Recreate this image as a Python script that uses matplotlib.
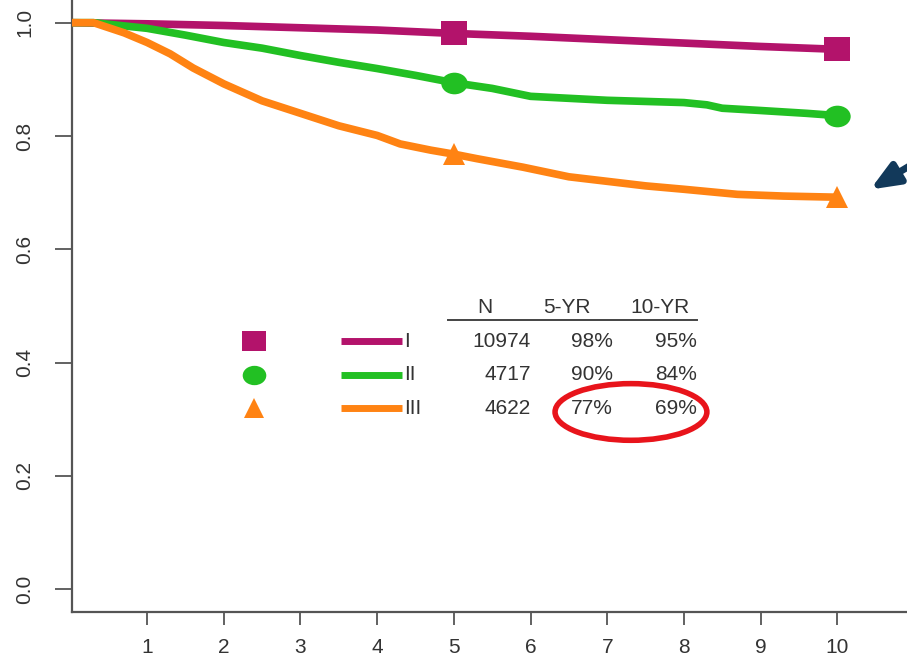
import numpy as np
import matplotlib
matplotlib.use("Agg")
import matplotlib.pyplot as plt
from matplotlib.patches import Ellipse
from matplotlib.path import Path
from matplotlib.transforms import Affine2D

plt.rcParams['font.family'] = ['Liberation Sans', 'DejaVu Sans']

# survival curves (years, proportion)
x_I = [0, 1, 2, 3, 4, 5, 6, 7, 8, 9, 10]
y_I = [1.0, 0.998, 0.995, 0.991, 0.987, 0.981, 0.976, 0.970, 0.964, 0.958, 0.953]

x_II = [0, 0.3, 1, 1.5, 2, 2.5, 3, 3.5, 4, 4.5, 5, 5.5, 6, 7, 8, 8.3, 8.5, 9, 9.6, 10]
y_II = [1.0, 1.0, 0.99, 0.978, 0.965, 0.955, 0.942, 0.93, 0.919, 0.907, 0.894,
        0.884, 0.870, 0.863, 0.859, 0.855, 0.849, 0.845, 0.840, 0.836]

x_III = [0, 0.3, 0.7, 1, 1.3, 1.6, 2, 2.5, 3, 3.5, 4, 4.3, 4.7, 5, 5.3, 5.9,
         6.5, 7, 7.5, 8, 8.7, 9.3, 10]
y_III = [1.0, 1.0, 0.982, 0.965, 0.945, 0.92, 0.892, 0.862, 0.84, 0.818, 0.801,
         0.786, 0.775, 0.768, 0.760, 0.745, 0.728, 0.720, 0.712, 0.706, 0.697,
         0.694, 0.692]

groups = ["I", "II", "III"]
n_pts = ["10974", "4717", "4622"]
yr5 = ["98%", "90%", "77%"]
yr10 = ["95%", "84%", "69%"]
marker_years = [5, 10]

purple = '#B3136B'
green = '#22C023'
orange = '#FF8313'
txt = '#333333'

ell = Path.unit_circle().transformed(Affine2D().scale(1, 0.82))
sq = Path.unit_rectangle().transformed(Affine2D().translate(-0.5, -0.5).scale(1, 0.88))

fig = plt.figure(figsize=(9.07, 6.62), dpi=100)
ax = fig.add_axes([72/907, 50/662, 835/907, 612/662])

series = [(x_I, y_I, purple, sq, 19), (x_II, y_II, green, ell, 19), (x_III, y_III, orange, '^', 16)]
for xs, ys, c, m, ms in series:
    ax.plot(xs, ys, color=c, lw=5.5, solid_capstyle='butt', zorder=3)
    idx = [xs.index(v) for v in marker_years]
    ax.plot([xs[i] for i in idx], [ys[i] for i in idx], ls='none', marker=m,
            ms=ms, color=c, mew=0, zorder=4)

ax.set_xlim(0.02, 10.91)
ax.set_ylim(-0.04, 1.04)
ax.set_xticks(range(1, 11))
ax.set_yticks([0.0, 0.2, 0.4, 0.6, 0.8, 1.0])
ax.set_yticklabels(['0.0', '0.2', '0.4', '0.6', '0.8', '1.0'], rotation=90, va='center')
ax.tick_params(axis='both', width=1.3, color='#555555', labelsize=15, labelcolor=txt)
ax.tick_params(axis='y', length=12.2, pad=15)
ax.tick_params(axis='x', length=9.4, pad=9)
for s in ['top', 'right']:
    ax.spines[s].set_visible(False)
for s in ['left', 'bottom']:
    ax.spines[s].set_color('#555555')
    ax.spines[s].set_linewidth(1.6)

# legend table drawn inside the plot
fs = 15
ax.text(5.41, 0.498, "N", ha='center', va='center', fontsize=fs, color=txt)
ax.text(6.48, 0.498, "5-YR", ha='center', va='center', fontsize=fs, color=txt)
ax.text(7.69, 0.498, "10-YR", ha='center', va='center', fontsize=fs, color=txt)
ax.plot([4.92, 8.17], [0.475, 0.475], color='#444444', lw=1.4)
row_y = [0.438, 0.379, 0.320]
for i, (g, c, m, ms) in enumerate(zip(groups, [purple, green, orange], [sq, ell, '^'], [17, 17, 14])):
    yy = row_y[i]
    ax.plot([2.39], [yy], marker=m, ms=ms, color=c, mew=0, ls='none')
    ax.plot([3.53, 4.33], [yy, yy], color=c, lw=5, solid_capstyle='butt')
    ax.text(4.35, yy, g, ha='left', va='center', fontsize=fs, color=txt)
    ax.text(6.0, yy, n_pts[i], ha='right', va='center', fontsize=fs, color=txt)
    ax.text(7.07, yy, yr5[i], ha='right', va='center', fontsize=fs, color=txt)
    ax.text(8.17, yy, yr10[i], ha='right', va='center', fontsize=fs, color=txt)

# red highlight around the stage III survival figures
ax.add_patch(Ellipse((7.31, 0.313), 1.98, 0.100, fill=False, ec='#E8141B', lw=4, zorder=5))

# arrow pointing at the stage III curve end
ax.annotate("", xy=(10.40, 0.703), xytext=(11.2, 0.768),
            arrowprops=dict(arrowstyle='-|>,head_length=1.7,head_width=0.7',
                            color='#12395A', lw=5),
            annotation_clip=False)

fig.savefig("out.png", dpi=100)
